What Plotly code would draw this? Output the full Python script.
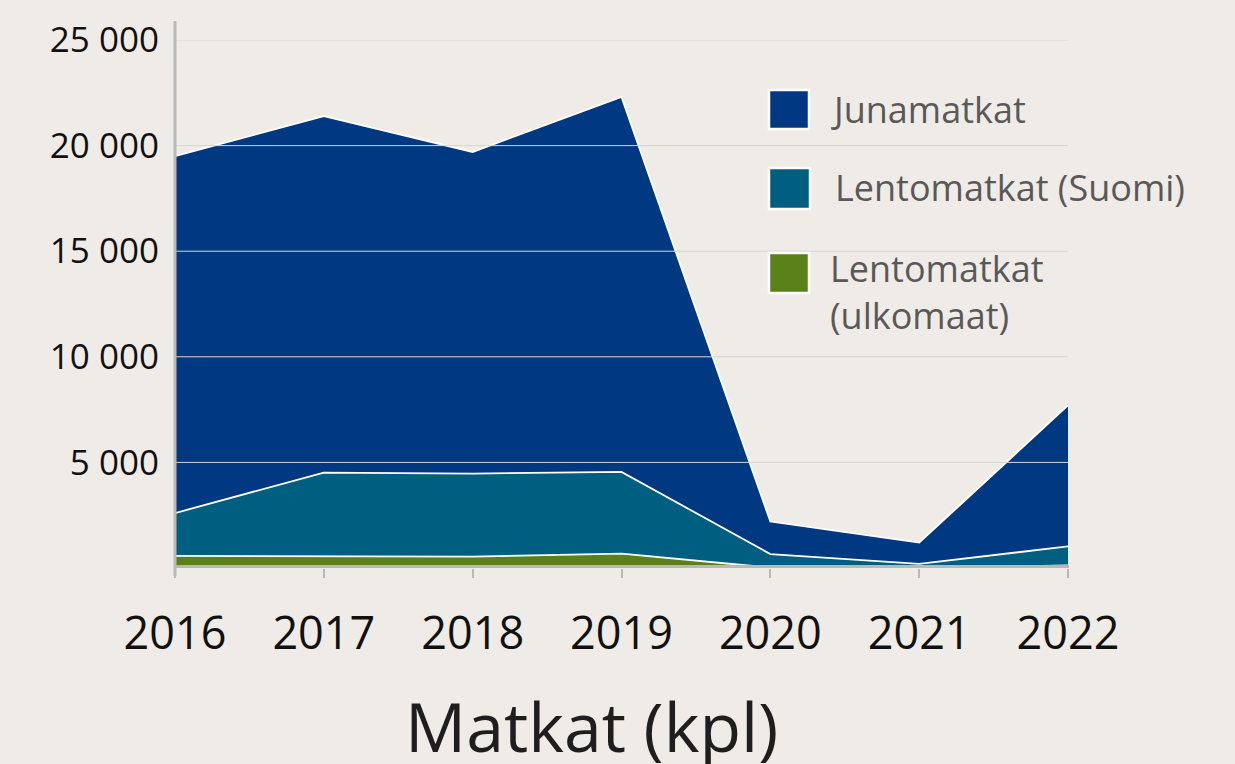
import plotly.graph_objects as go

years = [2016, 2017, 2018, 2019, 2020, 2021, 2022]
ulkomaat = [570, 570, 540, 680, 20, 10, 120]
suomi = [2030, 3950, 3930, 3870, 640, 190, 900]
juna = [16900, 16880, 15230, 17750, 1540, 1000, 6680]

series_names = ["Lentomatkat (ulkomaat)", "Lentomatkat (Suomi)", "Junamatkat"]
colors = ["#5A8019", "#005E80", "#003882"]
y_ticks = [5000, 10000, 15000, 20000, 25000]

BG = "#EFECE7"
W, H = 1235, 764
L, R, T, B = 175, 1068, 40, 568

def px(x):
    return (x - L) / (R - L)

def py(y):
    return (B - y) / (B - T)

fig = go.Figure()
for name, vals, col in zip(series_names, [ulkomaat, suomi, juna], colors):
    fig.add_trace(go.Scatter(
        x=years, y=vals, name=name, mode="lines", stackgroup="one",
        fillcolor=col, line=dict(color="white", width=1.8),
        showlegend=False, hoverinfo="x+y+name",
    ))

shapes = []
for v in y_ticks:
    shapes.append(dict(type="line", xref="paper", yref="y", x0=0, x1=1, y0=v, y1=v,
                       line=dict(color="#D9D6D1", width=1), layer="above"))
shapes.append(dict(type="line", xref="paper", yref="paper", x0=0, x1=0,
                   y0=py(576), y1=py(21), line=dict(color="#B8B8B8", width=3), layer="above"))
shapes.append(dict(type="line", xref="paper", yref="paper", x0=px(174), x1=px(1069),
                   y0=py(566.5), y1=py(566.5), line=dict(color="#B8B8B8", width=3), layer="above"))

legend_boxes = [(769, 90, 809, 129), (769, 168, 810, 209), (769, 253, 809, 293)]
legend_cols = ["#003882", "#005E80", "#5A8019"]
for (x0, y0, x1, y1), col in zip(legend_boxes, legend_cols):
    shapes.append(dict(type="rect", xref="paper", yref="paper",
                       x0=px(x0), x1=px(x1), y0=py(y1), y1=py(y0),
                       fillcolor=col, line=dict(color="white", width=2.5), layer="above"))

annotations = []
legend_texts = [("Junamatkat", 829, 109), ("Lentomatkat (Suomi)", 833, 187),
                ("Lentomatkat<br>(ulkomaat)", 828, 292)]
for txt, x, y in legend_texts:
    annotations.append(dict(text=txt, xref="paper", yref="paper", x=px(x), y=py(y),
                            xanchor="left", yanchor="middle", align="left", showarrow=False,
                            font=dict(family="Open Sans", size=36, color="#595959")))
annotations.append(dict(text="Matkat (kpl)", xref="paper", yref="paper", x=px(591), y=py(725),
                        xanchor="center", yanchor="middle", showarrow=False,
                        font=dict(family="Open Sans", size=68, color="#1E1E1E")))

fig.update_layout(
    width=W, height=H,
    margin=dict(l=L, r=W - R, t=T, b=H - B),
    paper_bgcolor=BG, plot_bgcolor=BG,
    separators=", ",
    shapes=shapes, annotations=annotations,
    showlegend=False,
    xaxis=dict(range=[2016, 2022], tickvals=years, showgrid=False, zeroline=False,
               showline=False, ticks="outside", ticklen=9, tickwidth=2, tickcolor="#B8B8B8",
               ticklabelstandoff=17,
               tickfont=dict(family="Open Sans", size=45, color="#111111"), fixedrange=True),
    yaxis=dict(range=[0, 25000], tickvals=y_ticks, tickformat=",.0f", showgrid=False,
               zeroline=False, showline=False, ticks="", ticklabelstandoff=15,
               tickfont=dict(family="Open Sans", size=35, color="#111111"), fixedrange=True),
)

fig.write_html(
    "out.html",
    config={"displayModeBar": False},
    post_script="document.body.style.margin='0';document.body.style.overflow='hidden';document.body.style.background='#EFECE7';",
)
